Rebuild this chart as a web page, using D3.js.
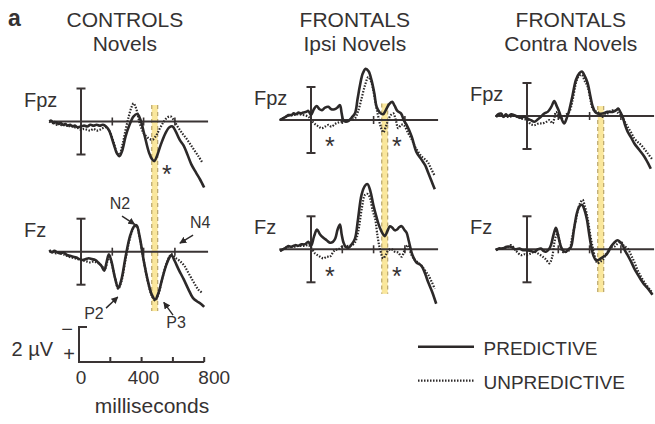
<!DOCTYPE html>
<html>
<head>
<meta charset="utf-8">
<script src="https://cdn.jsdelivr.net/npm/d3@7"></script>
<style>
  body { margin: 0; background: #fff; }
  text { font-family: "Liberation Sans", Arial, sans-serif; fill: #353232; }
</style>
</head>
<body>
<div id="viz"></div>
<script>
// ---- data: [milliseconds, microvolts] (negative plotted up) ----
const ctrlFpzPred = [[-202,0],[-190,-0.05],[-175,0.1],[-160,0.05],[-145,0.15],[-130,0.1],[-115,0.2],[-100,0.15],[-85,0.25],[-70,0.2],[-55,0.3],[-40,0.25],[-20,0.35],[0,0.3],[20,0.25],[40,0.3],[60,0.2],[80,0.25],[100,0.2],[120,0.25],[140,0.2],[160,0.3],[180,0.55],[210,1.4],[230,1.95],[245,2.1],[262,1.8],[285,0.9],[310,0.2],[335,-0.3],[360,-0.45],[380,-0.1],[405,0.8],[435,1.9],[455,2.3],[468,2.4],[485,2.1],[510,1.4],[540,0.7],[565,0.35],[585,0.3],[605,0.6],[630,1.1],[655,1.45],[680,2.0],[705,2.6],[735,3.1],[760,3.5],[787,4.0]];
const ctrlFpzUnpred = [[-202,0],[-185,0.1],[-170,0],[-155,0.2],[-140,0.1],[-120,0.25],[-100,0.2],[-80,0.3],[-60,0.25],[-40,0.35],[-20,0.4],[0,0.5],[20,0.45],[40,0.5],[60,0.55],[80,0.45],[100,0.55],[120,0.5],[140,0.4],[160,0.35],[180,0.55],[210,1.3],[230,1.9],[245,2.0],[265,1.4],[285,0.5],[305,-0.3],[322,-0.85],[336,-1.1],[352,-0.8],[375,0.1],[400,0.7],[430,1.0],[457,1.1],[480,0.85],[505,0.4],[530,0.0],[552,-0.25],[574,-0.3],[595,-0.05],[620,0.35],[650,0.75],[675,1.05],[700,1.4],[725,1.75],[750,2.1],[776,2.5]];
const ctrlFzPred = [[-202,-0.1],[-185,0.05],[-170,-0.05],[-150,0.05],[-130,0.1],[-110,0.05],[-90,0.2],[-70,0.25],[-50,0.3],[-30,0.35],[-10,0.45],[10,0.5],[30,0.45],[50,0.4],[70,0.45],[90,0.5],[110,0.65],[130,0.85],[148,1.15],[162,0.7],[178,0.15],[195,0.6],[215,1.5],[238,2.2],[258,1.7],[285,0.3],[315,-1.0],[340,-1.55],[355,-1.6],[375,-0.9],[400,0.5],[428,1.8],[452,2.6],[474,2.9],[495,2.5],[520,1.6],[545,0.8],[565,0.35],[578,0.2],[598,0.55],[625,1.1],[655,1.65],[685,2.25],[715,2.8],[740,3.0],[765,3.15],[787,3.35]];
const ctrlFzUnpred = [[-202,-0.05],[-180,0],[-160,0.1],[-140,0.05],[-120,0.15],[-100,0.2],[-80,0.3],[-60,0.35],[-40,0.4],[-20,0.45],[0,0.5],[20,0.55],[40,0.6],[60,0.65],[80,0.6],[100,0.65],[120,0.75],[140,0.95],[155,1.0],[168,0.6],[182,0.3],[198,0.8],[218,1.6],[238,2.25],[258,1.8],[285,0.45],[315,-0.9],[340,-1.5],[355,-1.55],[375,-0.85],[400,0.5],[428,1.85],[452,2.65],[474,2.95],[495,2.55],[520,1.6],[545,0.75],[565,0.3],[578,0.15],[600,0.35],[630,0.55],[660,0.85],[690,1.35],[723,1.9],[750,2.3],[776,2.5]];

const ipsiFpzPred = [[-198,0],[-180,-0.1],[-160,-0.2],[-145,-0.3],[-125,-0.3],[-110,-0.4],[-95,-0.35],[-81,-0.45],[-65,-0.4],[-50,-0.45],[-30,-0.5],[-17,-0.55],[0,-0.3],[18,-0.65],[36,-0.85],[55,-0.65],[70,-0.6],[90,-0.75],[111,-0.8],[130,-0.65],[150,-0.65],[168,-0.75],[185,-0.9],[196,-0.4],[206,0],[222,0.1],[240,0.05],[260,-0.15],[281,-0.4],[298,-1.3],[313,-2.1],[330,-2.8],[349,-3.1],[368,-2.95],[387,-2.4],[405,-1.6],[419,-0.8],[440,-0.45],[460,-0.35],[478,-0.6],[498,-0.95],[519,-1.1],[535,-0.85],[552,-0.55],[575,-0.4],[595,0.05],[611,0.3],[643,1.0],[674,1.95],[706,2.4],[730,2.75],[749,3.2],[770,3.7],[791,4.2]];
const ipsiFpzUnpred = [[-198,0],[-170,-0.15],[-145,-0.25],[-115,-0.3],[-81,-0.35],[-50,-0.3],[-17,-0.2],[0,0],[26,0.25],[50,0.4],[68,0.5],[90,0.4],[111,0.3],[130,0.4],[153,0.25],[175,0.15],[196,0.1],[220,0.05],[250,0.0],[281,-0.1],[300,-0.5],[323,-1.3],[345,-2.1],[366,-2.6],[385,-2.3],[400,-1.7],[415,-0.9],[430,-0.2],[445,0.4],[462,0.75],[480,0.35],[494,0],[510,-0.3],[526,-0.4],[542,0.0],[557,0.5],[575,0.3],[592,0.3],[621,0.8],[645,1.2],[664,1.6],[690,2.0],[706,2.2],[730,2.4],[749,2.6],[770,3.0],[791,3.4]];
const ipsiFzPred = [[-198,0.1],[-180,0],[-160,-0.1],[-145,-0.2],[-125,-0.15],[-100,-0.25],[-81,-0.22],[-60,-0.3],[-40,-0.3],[-17,-0.45],[0,-0.2],[20,-0.8],[38,-1.2],[58,-0.9],[79,-0.7],[100,-0.55],[121,-0.4],[140,-0.45],[155,-0.65],[170,-1.2],[185,-1.5],[196,-0.9],[208,-0.4],[222,-0.15],[240,-0.1],[260,-0.3],[281,-0.65],[300,-1.8],[323,-3.3],[345,-3.85],[361,-3.95],[380,-3.5],[398,-2.7],[420,-1.9],[440,-1.3],[458,-0.95],[472,-0.8],[488,-1.1],[504,-1.4],[520,-1.3],[536,-1.15],[550,-1.2],[565,-1.35],[579,-1.4],[595,-1.2],[611,-1.0],[625,-0.5],[643,0.2],[660,0.6],[674,0.8],[706,1.0],[730,1.5],[749,2.0],[775,2.6],[800,3.3]];
const ipsiFzUnpred = [[-198,0.1],[-170,-0.05],[-145,-0.15],[-110,-0.15],[-81,-0.2],[-50,-0.2],[-17,-0.25],[0,-0.1],[26,0.25],[50,0.4],[79,0.55],[100,0.45],[121,0.45],[140,0.2],[153,0.05],[175,0.0],[196,-0.15],[230,-0.2],[260,-0.25],[280,-0.4],[302,-1.1],[325,-2.5],[345,-3.3],[362,-3.35],[377,-3.1],[395,-2.3],[409,-1.9],[425,-0.8],[440,-0.05],[462,0.55],[480,0.3],[494,0.05],[515,0.0],[536,0.15],[557,0.2],[579,0.45],[600,0.0],[621,-0.25],[640,0.3],[664,0.65],[690,0.85],[706,1.0],[730,1.3],[749,1.55],[770,1.95],[791,2.4]];

const contraFpzPred = [[-198,0.05],[-185,-0.1],[-166,-0.15],[-150,0.05],[-135,-0.1],[-123,0],[-100,-0.1],[-81,-0.05],[-60,0.05],[-38,0.1],[-20,0.05],[0,0.15],[25,0.25],[47,0.35],[70,0.2],[89,0.05],[110,-0.15],[132,-0.25],[155,-0.55],[174,-0.9],[190,-0.6],[206,-0.25],[222,0.2],[238,0.45],[255,0.1],[270,-0.35],[290,-1.2],[313,-2.2],[335,-2.6],[351,-2.7],[370,-2.4],[387,-2.0],[405,-1.2],[419,-0.6],[435,-0.25],[451,-0.15],[483,-0.15],[515,-0.25],[547,-0.25],[570,-0.35],[583,-0.45],[598,-0.2],[611,0.05],[625,0.5],[643,0.95],[665,1.3],[685,1.65],[717,2.05],[749,2.45],[770,2.8],[791,3.2]];
const contraFpzUnpred = [[-198,0.05],[-166,-0.1],[-123,0.05],[-81,0],[-38,0.15],[0,0.25],[25,0.5],[47,0.55],[75,0.45],[100,0.45],[125,0.35],[143,0.25],[164,0.45],[175,0.1],[185,-0.25],[200,0.0],[217,0.15],[245,-0.05],[270,-0.25],[290,-0.9],[313,-2.0],[330,-2.4],[349,-2.5],[370,-2.1],[387,-1.8],[405,-1.0],[419,-0.45],[435,-0.3],[451,-0.25],[483,0.05],[515,-0.15],[535,-0.3],[557,-0.35],[580,-0.2],[600,-0.05],[625,0.35],[643,0.65],[665,1.0],[685,1.35],[710,1.6],[728,1.75],[750,2.0],[770,2.25],[802,2.65]];
const contraFzPred = [[-198,0.05],[-180,-0.05],[-155,-0.05],[-130,-0.15],[-102,-0.15],[-75,0],[-49,-0.05],[-25,0.05],[0,0.05],[25,0.1],[47,0.15],[70,0],[89,-0.05],[105,0.1],[121,0.15],[140,0],[153,-0.25],[170,-0.9],[185,-1.3],[200,-0.8],[217,-0.15],[233,0.1],[249,0.15],[265,0.0],[281,-0.15],[300,-1.2],[319,-2.2],[335,-2.6],[351,-2.7],[367,-2.4],[383,-1.8],[396,-1.0],[409,-0.25],[425,0.4],[440,0.65],[456,0.65],[472,0.55],[488,0.45],[504,0.35],[520,0.15],[536,-0.15],[557,-0.4],[579,-0.55],[595,-0.45],[611,-0.25],[627,0.1],[643,0.35],[665,0.75],[685,1.15],[706,1.5],[728,1.85],[750,2.15],[770,2.35],[790,2.6],[802,2.75]];
const contraFzUnpred = [[-198,0.05],[-170,-0.05],[-130,-0.1],[-102,-0.25],[-70,0.1],[-38,0.35],[-15,0.3],[0,0.35],[25,0.25],[47,0.15],[70,0.25],[100,0.45],[120,0.6],[143,0.85],[160,0.5],[174,-0.35],[185,-0.8],[196,-0.95],[210,-0.4],[228,0.15],[250,0.15],[270,0.05],[290,-0.8],[313,-1.8],[335,-2.7],[355,-3.0],[370,-2.6],[387,-1.9],[402,-1.0],[419,-0.15],[435,0.5],[451,0.85],[467,0.75],[483,0.65],[500,0.4],[515,0.15],[535,-0.1],[557,-0.15],[580,-0.35],[600,-0.45],[620,-0.2],[643,-0.05],[665,0.35],[685,0.75],[706,1.25],[728,1.65],[750,2.0],[770,2.25],[790,2.5],[802,2.65]];

const panelTitles = [['CONTROLS', 'Novels'], ['FRONTALS', 'Ipsi Novels'], ['FRONTALS', 'Contra Novels']];
const channels = ['Fpz', 'Fz'];
const waves = [
  [[ctrlFpzPred, ctrlFpzUnpred], [ctrlFzPred, ctrlFzUnpred]],
  [[ipsiFpzPred, ipsiFpzUnpred], [ipsiFzPred, ipsiFzUnpred]],
  [[contraFpzPred, contraFpzUnpred], [contraFzPred, contraFzUnpred]]
];
const baselineTicks = [200, 400, 600];
const epochMs = [-202, 812];
const barUv = 2;                     // half-height of the calibration bar
const bandMs = [452, 490];           // highlighted window
const bandTopUv = [-1, -1, -0.6];    // relative to Fpz row
const bandBottomUv = [3.6, 2.7, 2.6];// relative to Fz row
// asterisks: [panel, row, ms, µV]
const stars = [[0, 0, 548, 2.9], [1, 0, 121, 1.3], [1, 0, 548, 1.3], [1, 1, 121, 1.3], [1, 1, 548, 1.3]];
// component labels (controls, Fz): [label, textMs, textUv, fromMs, fromUv, toMs, toUv]
const components = [
  ['N2', 249, -2.58, 262, -2.16, 343, -1.66],
  ['N4', 762, -1.42, 716, -1.01, 632, -0.52],
  ['P2', 83, 4.05, 160, 3.42, 235, 2.75],
  ['P3', 607, 4.65, 588, 3.84, 529, 3.07]
];
const scaleTicks = [0, 200, 400, 600, 800];
const scaleLabels = [0, 400, 800];
const legendLabels = ['PREDICTIVE', 'UNPREDICTIVE'];

// ---- layout ----
const width = 655, height = 424;
const pxPerMs = 0.1565, pxPerUv = 16.5;
const panelX0 = [81, 311, 527];
const rowBase = [[121.5, 251.7], [120, 249.3], [116, 249.3]];
const ink = '#3a3434', curveInk = '#2c2929';
const dotted = {width: 2.2, dash: '1.5,1.5'};

const svg = d3.select('#viz').append('svg')
  .attr('width', width).attr('height', height);

const xFor = p => d3.scaleLinear().domain([0, 800]).range([panelX0[p], panelX0[p] + 800 * pxPerMs]);
const yFor = (p, r) => d3.scaleLinear().domain([0, 2]).range([rowBase[p][r], rowBase[p][r] + 2 * pxPerUv]);

// figure letter
svg.append('text').attr('x', 8).attr('y', 26).style('font-size', '23px').style('font-weight', 'bold').text('a');

panelTitles.forEach((title, p) => {
  const x = xFor(p);
  const g = svg.append('g');
  const cx = x(280);

  g.selectAll('text.title').data(title).join('text')
    .attr('x', cx).attr('y', (d, i) => 26.7 + i * 24)
    .attr('text-anchor', 'middle').style('font-size', '21px').text(d => d);

  // highlighted window
  const yTop = yFor(p, 0)(bandTopUv[p]), yBot = yFor(p, 1)(bandBottomUv[p]);
  g.append('rect')
    .attr('x', x(bandMs[0])).attr('width', x(bandMs[1]) - x(bandMs[0]))
    .attr('y', yTop).attr('height', yBot - yTop)
    .attr('fill', '#fae79c');
  g.selectAll('line.band').data(bandMs).join('line')
    .attr('x1', d => x(d)).attr('x2', d => x(d))
    .attr('y1', yTop).attr('y2', yBot)
    .attr('stroke', '#b9a46a').attr('stroke-width', 1.2).attr('stroke-dasharray', '4,3');

  channels.forEach((ch, r) => {
    const y = yFor(p, r);

    g.append('text').attr('x', x(0) - 57).attr('y', y(0) - 15)
      .style('font-size', '20px').text(ch);

    // baseline
    g.append('line')
      .attr('x1', x(epochMs[0])).attr('x2', Math.min(x(epochMs[1]), width))
      .attr('y1', y(0)).attr('y2', y(0))
      .attr('stroke', ink).attr('stroke-width', 2);
    g.selectAll(null).data(baselineTicks).join('line')
      .attr('x1', d => x(d)).attr('x2', d => x(d))
      .attr('y1', y(0) - 4).attr('y2', y(0) + 4)
      .attr('stroke', ink).attr('stroke-width', 1.6);

    // calibration bar at 0 ms
    g.append('line').attr('x1', x(0)).attr('x2', x(0))
      .attr('y1', y(-barUv)).attr('y2', y(barUv))
      .attr('stroke', ink).attr('stroke-width', 2);
    g.selectAll(null).data([-barUv, barUv]).join('line')
      .attr('x1', x(0) - 4.5).attr('x2', x(0) + 4.5)
      .attr('y1', d => y(d)).attr('y2', d => y(d))
      .attr('stroke', ink).attr('stroke-width', 2);

    const line = d3.line()
      .x(d => x(d[0])).y(d => y(d[1]))
      .curve(d3.curveCatmullRom.alpha(0.5));

    const [pred, unpred] = waves[p][r];
    g.append('path').attr('d', line(unpred))
      .attr('fill', 'none').attr('stroke', curveInk)
      .attr('stroke-width', dotted.width).attr('stroke-dasharray', dotted.dash);
    g.append('path').attr('d', line(pred))
      .attr('fill', 'none').attr('stroke', curveInk)
      .attr('stroke-width', 2.6).attr('stroke-linejoin', 'round');
  });
});

// asterisks
svg.selectAll('text.star').data(stars).join('text')
  .attr('class', 'star')
  .attr('x', d => xFor(d[0])(d[2]))
  .attr('y', d => yFor(d[0], d[1])(d[3]) + 14)
  .attr('text-anchor', 'middle').style('font-size', '25px').text('*');

// component labels with arrows
const defs = svg.append('defs');
defs.append('marker').attr('id', 'arrow')
  .attr('viewBox', '0 0 10 10').attr('refX', 9).attr('refY', 5)
  .attr('markerWidth', 5).attr('markerHeight', 5).attr('orient', 'auto')
  .append('path').attr('d', 'M0,0L10,5L0,10Z').attr('fill', curveInk);

const cx0 = xFor(0), cy1 = yFor(0, 1);
const comp = svg.append('g');
comp.selectAll('text').data(components).join('text')
  .attr('x', d => cx0(d[1])).attr('y', d => cy1(d[2]))
  .attr('text-anchor', 'middle').style('font-size', '16px').text(d => d[0]);
comp.selectAll('line').data(components).join('line')
  .attr('x1', d => cx0(d[3])).attr('y1', d => cy1(d[4]))
  .attr('x2', d => cx0(d[5])).attr('y2', d => cy1(d[6]))
  .attr('stroke', curveInk).attr('stroke-width', 1.4)
  .attr('marker-end', 'url(#arrow)');

// scale bar
const sx = d3.scaleLinear().domain([0, 800]).range([79, 79 + 800 * pxPerMs]);
const sy = d3.scaleLinear().domain([0, 2]).range([362, 362 - 2 * pxPerUv - 2]);
const sb = svg.append('g');
sb.append('path')
  .attr('d', `M${sx(0) + 8},${sy(2)}H${sx(0)}V${sy(0)}H${sx(800)}`)
  .attr('fill', 'none').attr('stroke', ink).attr('stroke-width', 2);
sb.selectAll('line').data(scaleTicks.slice(1)).join('line')
  .attr('x1', d => sx(d)).attr('x2', d => sx(d))
  .attr('y1', sy(0)).attr('y2', sy(0) - 5)
  .attr('stroke', ink).attr('stroke-width', 2);
sb.selectAll('text.tick').data(scaleLabels).join('text')
  .attr('class', 'tick')
  .attr('x', (d, i) => sx(d) + [2, 2, 10][i]).attr('y', 384)
  .attr('text-anchor', 'middle').style('font-size', '19px').text(d => d);
sb.append('text').attr('x', 152).attr('y', 413).attr('text-anchor', 'middle')
  .style('font-size', '21px').text('milliseconds');
sb.append('text').attr('x', 53).attr('y', 356).attr('text-anchor', 'end')
  .style('font-size', '20px').text('2 µV');
sb.append('text').attr('x', 67).attr('y', 336).attr('text-anchor', 'middle')
  .style('font-size', '20px').text('−');
sb.append('text').attr('x', 69).attr('y', 361).attr('text-anchor', 'middle')
  .style('font-size', '20px').text('+');

// legend
const lg = svg.append('g');
legendLabels.forEach((lab, i) => {
  const ly = 346.7 + i * 34;
  lg.append('line').attr('x1', 418).attr('x2', 474).attr('y1', ly).attr('y2', ly)
    .attr('stroke', curveInk)
    .attr('stroke-width', i === 0 ? 2.6 : dotted.width)
    .attr('stroke-dasharray', i === 0 ? null : dotted.dash);
  lg.append('text').attr('x', 483.5).attr('y', ly + 8.5)
    .style('font-size', '19px').text(lab);
});
</script>
</body>
</html>
